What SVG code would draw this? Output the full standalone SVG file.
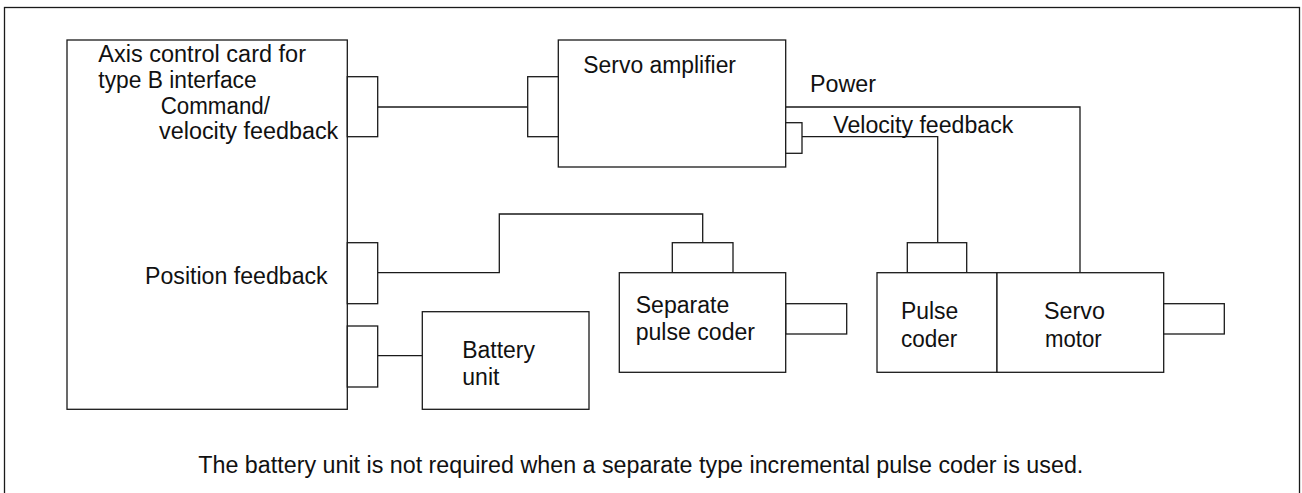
<svg xmlns="http://www.w3.org/2000/svg" width="1302" height="493" viewBox="0 0 1302 493">
<style>
.b{fill:#fff;stroke:#1a1a1a;stroke-width:1.3}
.w{fill:none;stroke:#1a1a1a;stroke-width:1.3}
text{font-family:"Liberation Sans",Arial,sans-serif;font-size:23px;fill:#111}
</style>
<rect x="0" y="0" width="1302" height="493" fill="#fff"/>
<rect id="frame" class="w" x="4.5" y="7.5" width="1295" height="492"/>
<g id="connectors">
<path class="w" d="M378 107H528"/>
<path class="w" d="M786 107H1080V272.7"/>
<path class="w" d="M802 136.7H937.7V242.7"/>
<path class="w" d="M378 272.7H499.3V214H702.7V242.7"/>
<path class="w" d="M378 355.7H422.3"/>
</g>
<g id="axis-card">
<rect class="b" x="67" y="40" width="280.3" height="369.3"/>
<rect class="b" x="347.3" y="76.7" width="30.4" height="60"/>
<rect class="b" x="347.3" y="242.7" width="30.4" height="61"/>
<rect class="b" x="347.3" y="326" width="30.4" height="61"/>
<text x="98.3" y="61.7" textLength="207.7" lengthAdjust="spacingAndGlyphs">Axis control card for</text>
<text x="98.3" y="88.3" textLength="158.4" lengthAdjust="spacingAndGlyphs">type B interface</text>
<text x="160.7" y="114" textLength="109.3" lengthAdjust="spacingAndGlyphs">Command/</text>
<text x="159" y="139.3" textLength="179.3" lengthAdjust="spacingAndGlyphs">velocity feedback</text>
<text x="145" y="284.3" textLength="182.7" lengthAdjust="spacingAndGlyphs">Position feedback</text>
</g>
<g id="servo-amplifier">
<rect class="b" x="558.3" y="40" width="227.4" height="127"/>
<rect class="b" x="527.7" y="76.7" width="30.6" height="60"/>
<rect class="b" x="785.7" y="122.7" width="16.3" height="30.6"/>
<text x="583.3" y="72.7" textLength="152.7" lengthAdjust="spacingAndGlyphs">Servo amplifier</text>
</g>
<g id="labels">
<text x="810" y="91.7" textLength="66" lengthAdjust="spacingAndGlyphs">Power</text>
<text x="833.3" y="132.7" textLength="180" lengthAdjust="spacingAndGlyphs">Velocity feedback</text>
</g>
<g id="separate-pulse-coder">
<rect class="b" x="672.3" y="242.7" width="60.7" height="30"/>
<rect class="b" x="785.7" y="303.7" width="61" height="30.3"/>
<rect class="b" x="619.3" y="272.7" width="166.4" height="99.6"/>
<text x="635.7" y="312.7" textLength="93.6" lengthAdjust="spacingAndGlyphs">Separate</text>
<text x="635.7" y="340" textLength="119.3" lengthAdjust="spacingAndGlyphs">pulse coder</text>
</g>
<g id="battery-unit">
<rect class="b" x="422.3" y="311.7" width="166.7" height="97.6"/>
<text x="462.3" y="357.7" textLength="72.7" lengthAdjust="spacingAndGlyphs">Battery</text>
<text x="462.3" y="385">unit</text>
</g>
<g id="pulse-coder">
<rect class="b" x="907.3" y="242.7" width="59.4" height="30"/>
<rect class="b" x="877" y="272.7" width="120" height="99.6"/>
<text x="901" y="319.3" textLength="57.3" lengthAdjust="spacingAndGlyphs">Pulse</text>
<text x="901" y="346.7" textLength="56.3" lengthAdjust="spacingAndGlyphs">coder</text>
</g>
<g id="servo-motor">
<rect class="b" x="997" y="272.7" width="166.7" height="99.6"/>
<rect class="b" x="1163.7" y="303.7" width="60.6" height="30.3"/>
<text x="1044" y="319.3" textLength="61" lengthAdjust="spacingAndGlyphs">Servo</text>
<text x="1045" y="346.7" textLength="56.7" lengthAdjust="spacingAndGlyphs">motor</text>
</g>
<g id="note">
<text x="198.3" y="473.3" textLength="885" lengthAdjust="spacingAndGlyphs">The battery unit is not required when a separate type incremental pulse coder is used.</text>
</g>
</svg>
